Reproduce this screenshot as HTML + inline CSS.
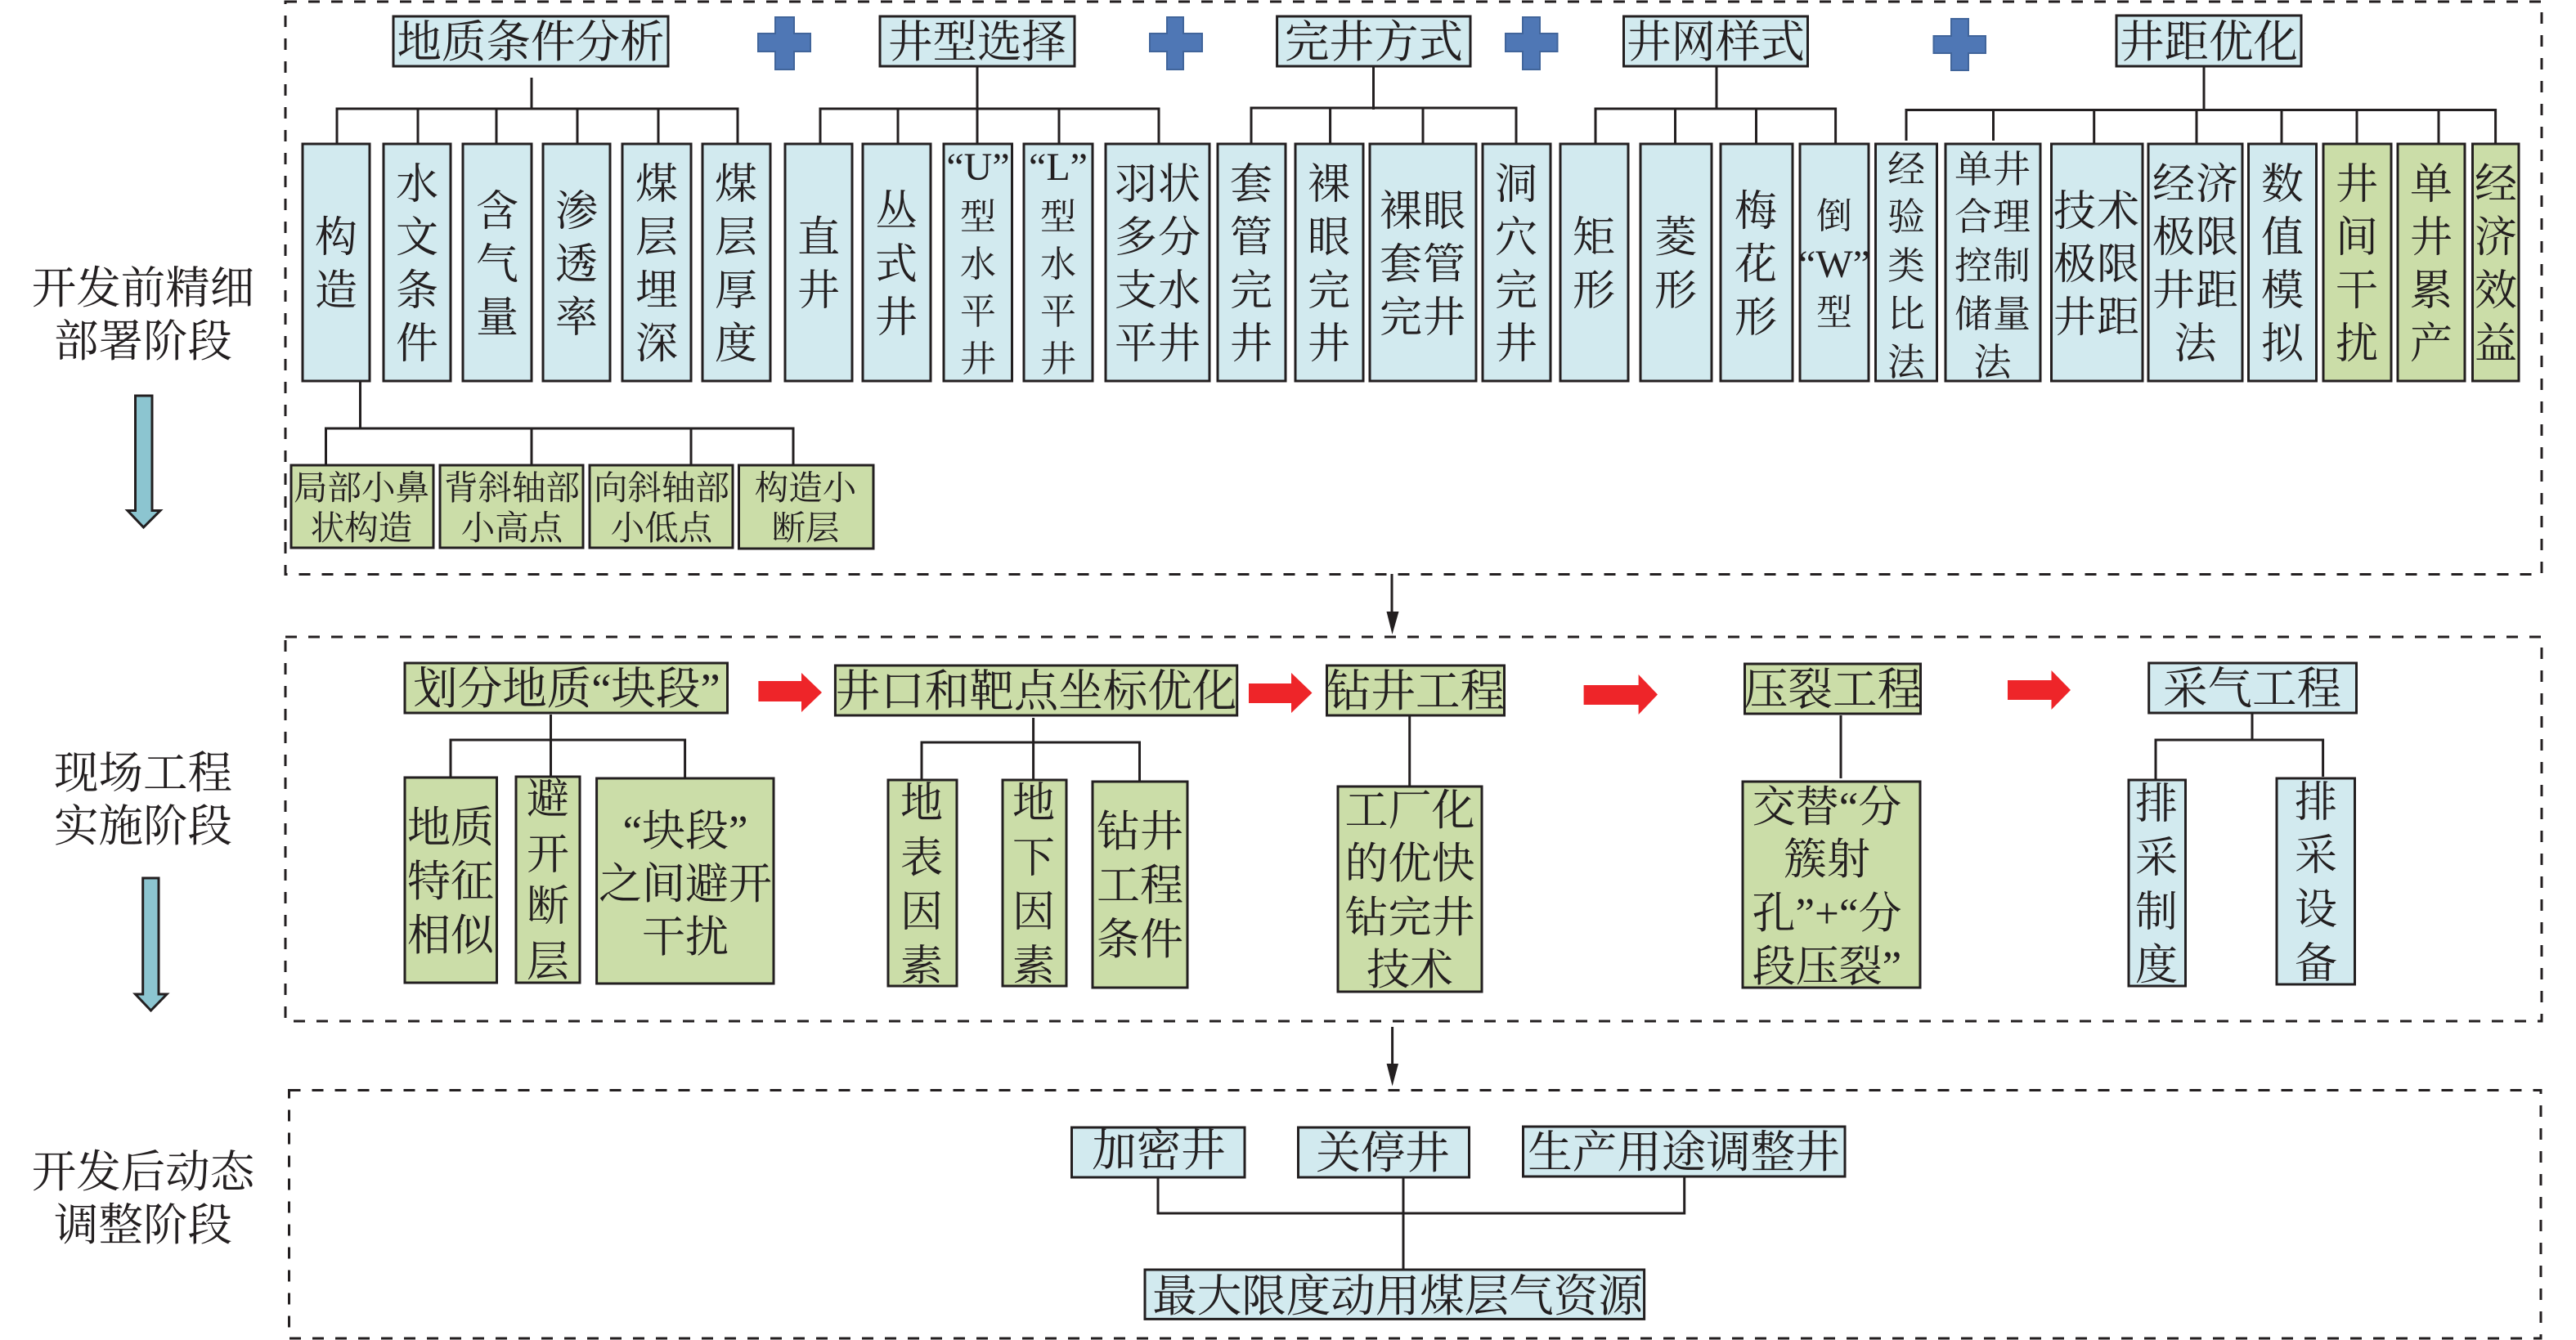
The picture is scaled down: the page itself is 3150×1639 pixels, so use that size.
<!DOCTYPE html>
<html lang="zh"><head><meta charset="utf-8"><title>煤层气开发部署流程</title>
<style>
html,body{margin:0;padding:0;background:#fff}
svg{display:block}
text{font-family:"Liberation Serif","Noto Serif CJK SC",serif;fill:#231f20;text-anchor:middle}
.d{fill:none;stroke:#231f20;stroke-width:3;stroke-dasharray:14 14}
.b{fill:#d2eaef;stroke:#231f20;stroke-width:3}
.g{fill:#cbdda8;stroke:#231f20;stroke-width:3}
.l{fill:none;stroke:#231f20;stroke-width:3}
.t{fill:#8cc5d0;stroke:#231f20;stroke-width:3}
.p{fill:#4f77b5;stroke:#41659b;stroke-width:2}
.r{fill:#ee2529}
.k{fill:#231f20}
.f54{font-size:54.5px}.f52{font-size:53px}.f50{font-size:52px}.f45{font-size:46px;letter-spacing:1px}
.f44{font-size:46px}.f42{font-size:44px}.f40{font-size:41.5px}.f48{font-size:48px}.s{letter-spacing:1px}
</style></head><body>
<svg xmlns="http://www.w3.org/2000/svg" width="3150" height="1639" viewBox="0 0 3150 1639">
<rect width="3150" height="1639" fill="#fff"/>
<!-- dashed frames -->
<rect class="d" x="349" y="2" width="2759" height="700.5"/>
<rect class="d" x="349" y="779" width="2759" height="470"/>
<rect class="d" x="353.5" y="1333.5" width="2753.5" height="303.5"/>

<!-- stage labels -->
<g class="f54">
<text x="175" y="371">开发前精细</text><text x="175" y="436">部署阶段</text>
<text x="175" y="964">现场工程</text><text x="175" y="1029">实施阶段</text>
<text x="175" y="1452">开发后动态</text><text x="175" y="1517">调整阶段</text>
</g>
<polygon class="t" points="165.5,484 186,484 186,624.5 196,624.5 175.5,645 156,624.5 165.5,624.5"/>
<polygon class="t" points="174.7,1074 194,1074 194,1216 204,1216 184.5,1236 165.5,1216 174.7,1216"/>

<!-- plus signs -->
<path class="p" d="M948 21H971V41H991V63H971V85H948V63H927V41H948Z"/>
<path class="p" d="M1427 21H1447V41H1470V63H1447V85H1427V63H1406V41H1427Z"/>
<path class="p" d="M1862 21H1883V41H1904.5V63H1883V85H1862V63H1841V41H1862Z"/>
<path class="p" d="M2386 23H2407V44H2428V65H2407V86H2386V65H2364.5V44H2386Z"/>

<!-- connectors stage 1 -->
<path class="l" d="M650 95V133M412 176V133H902V176M511 133V176M607 133V176M706 133V176M805 133V176"/>
<path class="l" d="M1195 82V176M1003 176V133H1417V176M1098 133V176M1295 133V176"/>
<path class="l" d="M1679.5 82V134M1530 176V132H1854V176M1626.6 132V176M1740 132V176"/>
<path class="l" d="M2099 82V133M1951 176V133H2244.6V176M2048.5 133V176M2147.5 133V176"/>
<path class="l" d="M2695 82V134.5M2331 172V134.5H3051.6V178M2437.5 134.5V172M2560.7 134.5V176M2686 134.5V176M2790 134.5V176M2882 134.5V176M2982 134.5V176"/>
<path class="l" d="M440.5 467V524M398.5 569V524H970V569M650 524V569M845 524V569"/>

<!-- header boxes stage 1 -->
<rect class="b" x="481" y="20" width="336" height="61"/><text class="f54" x="649" y="70">地质条件分析</text>
<rect class="b" x="1076" y="20" width="238" height="61"/><text class="f54" x="1195" y="70">井型选择</text>
<rect class="b" x="1561.6" y="20" width="236.4" height="61"/><text class="f54" x="1680" y="70">完井方式</text>
<rect class="b" x="1985.5" y="20" width="225" height="61"/><text class="f54" x="2098" y="70">井网样式</text>
<rect class="b" x="2588" y="19" width="226" height="62"/><text class="f54" x="2701" y="70">井距优化</text>

<!-- tall boxes stage 1 -->
<rect class="b" x="370" y="176" width="82" height="290"/><g class="f50"><text x="411" y="308">构</text><text x="411" y="373">造</text></g>
<rect class="b" x="469" y="176" width="82" height="290"/><g class="f50"><text x="510" y="243">水</text><text x="510" y="308">文</text><text x="510" y="373">条</text><text x="510" y="438">件</text></g>
<rect class="b" x="566" y="176" width="84" height="290"/><g class="f50"><text x="608" y="276">含</text><text x="608" y="341">气</text><text x="608" y="406">量</text></g>
<rect class="b" x="664" y="176" width="82" height="290"/><g class="f50"><text x="705" y="276">渗</text><text x="705" y="341">透</text><text x="705" y="406">率</text></g>
<rect class="b" x="761" y="176" width="84" height="290"/><g class="f50"><text x="803" y="243">煤</text><text x="803" y="308">层</text><text x="803" y="373">埋</text><text x="803" y="438">深</text></g>
<rect class="b" x="859" y="176" width="83" height="290"/><g class="f50"><text x="900" y="243">煤</text><text x="900" y="308">层</text><text x="900" y="373">厚</text><text x="900" y="438">度</text></g>
<rect class="b" x="960" y="176" width="82" height="290"/><g class="f50"><text x="1001" y="308">直</text><text x="1001" y="373">井</text></g>
<rect class="b" x="1055" y="176" width="83" height="290"/><g class="f50"><text x="1096" y="276">丛</text><text x="1096" y="341">式</text><text x="1096" y="406">井</text></g>
<rect class="b" x="1154" y="176" width="83.5" height="290"/><text class="f48" x="1196" y="220">“U”</text><g class="f42"><text x="1196" y="280">型</text><text x="1196" y="338">水</text><text x="1196" y="396">平</text><text x="1196" y="454">井</text></g>
<rect class="b" x="1252" y="176" width="84" height="290"/><text class="f48" x="1294" y="220">“L”</text><g class="f42"><text x="1294" y="280">型</text><text x="1294" y="338">水</text><text x="1294" y="396">平</text><text x="1294" y="454">井</text></g>
<rect class="b" x="1352" y="176" width="127" height="290"/><g class="f50 s"><text x="1416" y="243">羽状</text><text x="1416" y="308">多分</text><text x="1416" y="373">支水</text><text x="1416" y="438">平井</text></g>
<rect class="b" x="1489" y="176" width="83" height="290"/><g class="f50"><text x="1530" y="243">套</text><text x="1530" y="308">管</text><text x="1530" y="373">完</text><text x="1530" y="438">井</text></g>
<rect class="b" x="1584" y="176" width="83" height="290"/><g class="f50"><text x="1625" y="243">裸</text><text x="1625" y="308">眼</text><text x="1625" y="373">完</text><text x="1625" y="438">井</text></g>
<rect class="b" x="1675" y="176" width="130" height="290"/><g class="f50 s"><text x="1740" y="276">裸眼</text><text x="1740" y="341">套管</text><text x="1740" y="406">完井</text></g>
<rect class="b" x="1813" y="176" width="83" height="290"/><g class="f50"><text x="1854" y="243">洞</text><text x="1854" y="308">穴</text><text x="1854" y="373">完</text><text x="1854" y="438">井</text></g>
<rect class="b" x="1908" y="176" width="83" height="290"/><g class="f50"><text x="1949" y="308">矩</text><text x="1949" y="373">形</text></g>
<rect class="b" x="2006" y="176" width="87" height="290"/><g class="f50"><text x="2049" y="308">菱</text><text x="2049" y="373">形</text></g>
<rect class="b" x="2104" y="176" width="88" height="290"/><g class="f50"><text x="2147" y="276">梅</text><text x="2147" y="341">花</text><text x="2147" y="406">形</text></g>
<rect class="b" x="2201" y="176" width="84" height="290"/><g class="f42"><text x="2243" y="279">倒</text><text x="2243" y="397">型</text></g><text class="f48" x="2243" y="339">“W”</text>
<rect class="b" x="2293.5" y="176" width="75" height="290"/><g class="f44"><text x="2331" y="223">经</text><text x="2331" y="281">验</text><text x="2331" y="341">类</text><text x="2331" y="400">比</text><text x="2331" y="459">法</text></g>
<rect class="b" x="2379" y="176" width="116" height="290"/><g class="f45"><text x="2437" y="223">单井</text><text x="2437" y="281">合理</text><text x="2437" y="341">控制</text><text x="2437" y="400">储量</text><text x="2437" y="459">法</text></g>
<rect class="b" x="2508.5" y="176" width="111.5" height="290"/><g class="f50 s"><text x="2564" y="276">技术</text><text x="2564" y="341">极限</text><text x="2564" y="406">井距</text></g>
<rect class="b" x="2627" y="176" width="115" height="290"/><g class="f50 s"><text x="2685" y="243">经济</text><text x="2685" y="308">极限</text><text x="2685" y="373">井距</text><text x="2685" y="438">法</text></g>
<rect class="b" x="2749.5" y="176" width="83" height="290"/><g class="f50"><text x="2791" y="243">数</text><text x="2791" y="308">值</text><text x="2791" y="373">模</text><text x="2791" y="438">拟</text></g>
<rect class="g" x="2841" y="176" width="83" height="290"/><g class="f50"><text x="2882" y="243">井</text><text x="2882" y="308">间</text><text x="2882" y="373">干</text><text x="2882" y="438">扰</text></g>
<rect class="g" x="2932" y="176" width="82" height="290"/><g class="f50"><text x="2973" y="243">单</text><text x="2973" y="308">井</text><text x="2973" y="373">累</text><text x="2973" y="438">产</text></g>
<rect class="g" x="3023.5" y="176" width="56.5" height="290"/><g class="f50"><text x="3052" y="243">经</text><text x="3052" y="308">济</text><text x="3052" y="373">效</text><text x="3052" y="438">益</text></g>

<!-- small green boxes -->
<rect class="g" x="356" y="569" width="174" height="101"/><g class="f40"><text x="442" y="611">局部小鼻</text><text x="442" y="660">状构造</text></g>
<rect class="g" x="538" y="569" width="175" height="101"/><g class="f40"><text x="626" y="611">背斜轴部</text><text x="626" y="660">小高点</text></g>
<rect class="g" x="721" y="569" width="175" height="101"/><g class="f40"><text x="809" y="611">向斜轴部</text><text x="809" y="660">小低点</text></g>
<rect class="g" x="903.5" y="569" width="164.5" height="102"/><g class="f40"><text x="985" y="611">构造小</text><text x="985" y="660">断层</text></g>

<!-- arrows between frames -->
<path class="l" d="M1702 702V750"/><polygon class="k" points="1695.5,748 1710.5,748 1702.5,776"/>
<path class="l" d="M1702.6 1256V1303"/><polygon class="k" points="1695.6,1301 1710,1301 1702.6,1328.5"/>

<!-- stage 2 connectors -->
<path class="l" d="M673.5 874V951M551 951V905H837.6V951"/>
<path class="l" d="M1263.6 878V954M1127 954V908H1393.5V956"/>
<path class="l" d="M1723.7 872V961"/>
<path class="l" d="M2251 875V952"/>
<path class="l" d="M2754 872V905M2636 953V905H2840.6V950"/>

<!-- stage 2 top boxes -->
<rect class="g" x="495" y="811" width="394.5" height="61"/><text class="f54" x="693" y="861">划分地质“块段”</text>
<rect class="g" x="1021.4" y="814" width="491.3" height="61"/><text class="f54" x="1267" y="864">井口和靶点坐标优化</text>
<rect class="g" x="1622.5" y="814" width="217" height="61"/><text class="f54" x="1731" y="864">钻井工程</text>
<rect class="g" x="2133.5" y="812" width="215" height="61"/><text class="f54" x="2241" y="862">压裂工程</text>
<rect class="b" x="2627.7" y="811" width="253.8" height="61"/><text class="f54" x="2754" y="861">采气工程</text>

<!-- red arrows -->
<polygon class="r" points="927.4,833 980,833 980,823 1005,847 980,871 980,858 927.4,858"/>
<polygon class="r" points="1527,836 1579,836 1579,823 1604.5,847.5 1579,872 1579,860 1527,860"/>
<polygon class="r" points="1936.6,838 2003.6,838 2003.6,825 2027,849.5 2003.6,874 2003.6,862 1936.6,862"/>
<polygon class="r" points="2455,832 2508.5,832 2508.5,820 2532,844 2508.5,868 2508.5,856 2455,856"/>

<!-- stage 2 lower boxes -->
<rect class="g" x="495" y="951" width="112.5" height="251"/><g class="f52"><text x="551" y="1030">地质</text><text x="551" y="1096">特征</text><text x="551" y="1162">相似</text></g>
<rect class="g" x="631" y="950" width="78" height="252"/><g class="f50"><text x="670" y="995">避</text><text x="670" y="1063">开</text><text x="670" y="1126">断</text><text x="670" y="1194">层</text></g>
<rect class="g" x="729.6" y="952" width="216.4" height="251"/><g class="f52"><text x="838" y="1034">“块段”</text><text x="838" y="1099">之间避开</text><text x="838" y="1164">干扰</text></g>
<rect class="g" x="1086" y="954" width="84" height="252"/><g class="f50"><text x="1127" y="1000">地</text><text x="1127" y="1067">表</text><text x="1127" y="1133">因</text><text x="1127" y="1199">素</text></g>
<rect class="g" x="1226" y="954" width="78" height="252"/><g class="f50"><text x="1264" y="1000">地</text><text x="1264" y="1067">下</text><text x="1264" y="1133">因</text><text x="1264" y="1199">素</text></g>
<rect class="g" x="1336" y="956" width="116" height="252"/><g class="f52"><text x="1394" y="1035">钻井</text><text x="1394" y="1101">工程</text><text x="1394" y="1167">条件</text></g>
<rect class="g" x="1636" y="962" width="176" height="251"/><g class="f52"><text x="1724" y="1009">工厂化</text><text x="1724" y="1074">的优快</text><text x="1724" y="1140">钻完井</text><text x="1724" y="1204">技术</text></g>
<rect class="g" x="2131" y="956" width="217" height="252"/><g class="f52"><text x="2234" y="1005">交替“分</text><text x="2234" y="1069">簇射</text><text x="2234" y="1135">孔”+“分</text><text x="2234" y="1200">段压裂”</text></g>
<rect class="b" x="2603" y="954" width="69.5" height="252"/><g class="f50"><text x="2637" y="1001">排</text><text x="2637" y="1067">采</text><text x="2637" y="1133">制</text><text x="2637" y="1198">度</text></g>
<rect class="b" x="2784" y="952" width="95.5" height="252"/><g class="f50"><text x="2832" y="999">排</text><text x="2832" y="1064">采</text><text x="2832" y="1130">设</text><text x="2832" y="1196">备</text></g>

<!-- stage 3 -->
<path class="l" d="M1416 1440V1484H2059.7V1439M1716 1440V1553"/>
<rect class="b" x="1310.5" y="1379" width="211.5" height="61"/><text class="f54" x="1417" y="1426">加密井</text>
<rect class="b" x="1587.5" y="1379" width="209" height="61"/><text class="f54" x="1691" y="1429">关停井</text>
<rect class="b" x="1862.5" y="1378" width="393.5" height="61"/><text class="f54" x="2059" y="1428">生产用途调整井</text>
<rect class="b" x="1400" y="1553" width="610.6" height="60.4"/><text class="f54" x="1709" y="1604">最大限度动用煤层气资源</text>
</svg>
</body></html>
